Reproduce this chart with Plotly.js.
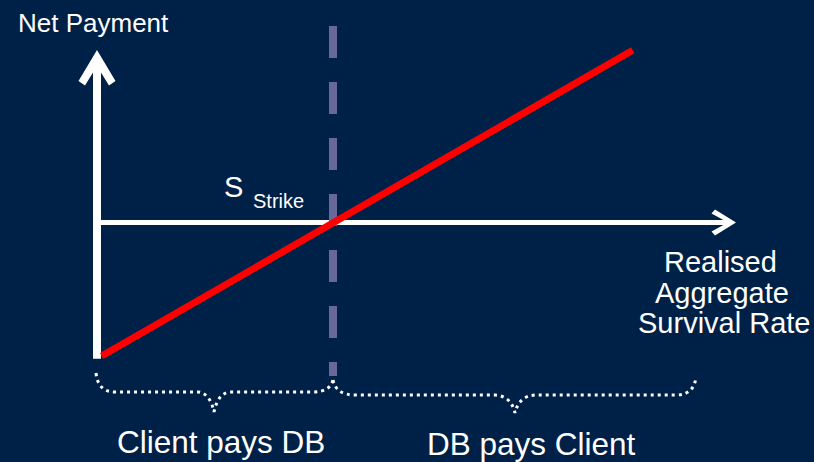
<!DOCTYPE html>
<html><head><meta charset="utf-8">
<script src="https://cdn.plot.ly/plotly-3.0.1.min.js"></script>
<style>html,body{margin:0;padding:0;background:#002147;}</style>
</head><body><div id="chart" style="width:814px;height:462px;"></div>
<script>
// Conceptual payoff data (strike-normalised units)
const survivalRate = [0.02, 2.27];
const netPayment = [-1.0, 1.29];
const strike = 1.0;
const axisLabelX = ["Realised", "Aggregate", "Survival Rate"];
const axisLabelY = "Net Payment";
const regionLabels = ["Client pays DB", "DB pays Client"];

const W = 814, H = 462;
const P = (x, y) => (x / W).toFixed(5) + ',' + (1 - y / H).toFixed(5);
const FONT = '"Liberation Sans", Arial, sans-serif';
const white = '#ffffff';

const shapes = [
  // vertical axis
  {type:'line', xref:'x', yref:'y', x0:0, x1:0, y0:-1.02, y1:1.2, line:{color:white, width:8}, layer:'below'},
  // horizontal axis
  {type:'line', xref:'x', yref:'y', x0:0, x1:2.68, y0:0, y1:0, line:{color:white, width:5}, layer:'below'},
  // vertical arrowhead
  {type:'path', xref:'paper', yref:'paper', layer:'below', line:{width:0}, fillcolor:white,
   path:'M'+P(97,50)+' L'+P(115.5,81)+' L'+P(109,85.5)+' L'+P(97,66)+' L'+P(85,85.5)+' L'+P(78.5,81)+' Z'},
  // horizontal arrowhead
  {type:'path', xref:'paper', yref:'paper', layer:'below', line:{width:0}, fillcolor:white,
   path:'M'+P(736,222.5)+' L'+P(715,209.5)+' L'+P(711.5,213.5)+' L'+P(728,222.5)+' L'+P(711.5,231.5)+' L'+P(715,235.5)+' Z'},
  // strike dashed line
  {type:'line', xref:'x', yref:'y', x0:strike, x1:strike, y0:1.472, y1:-1.15,
   line:{color:'#68689c', width:8, dash:'32px,24px'}, layer:'below'},
  // left brace
  {type:'path', xref:'paper', yref:'paper', layer:'below', line:{color:white, width:3, dash:'3px,4px'},
   path:'M'+P(96,373)+' Q'+P(98,392)+' '+P(115,392)+' L'+P(198,392)+' Q'+P(210,393)+' '+P(214,412)+
        ' Q'+P(218,393)+' '+P(230,392)+' L'+P(313,392)+' Q'+P(330,392)+' '+P(333,380)},
  // right brace
  {type:'path', xref:'paper', yref:'paper', layer:'below', line:{color:white, width:3, dash:'3px,4px'},
   path:'M'+P(333,380)+' Q'+P(336,395)+' '+P(355,395)+' L'+P(495,395)+' Q'+P(511,396)+' '+P(515,413)+
        ' Q'+P(519,396)+' '+P(535,395)+' L'+P(676,395)+' Q'+P(694,395)+' '+P(696,377)}
];

const ann = (text, x, y, size, xanchor) => ({
  text: text, xref:'paper', yref:'paper', x: x / W, y: 1 - y / H,
  xanchor: xanchor || 'center', yanchor:'middle', showarrow:false,
  font:{family:FONT, size:size, color:white}
});

const annotations = [
  ann(axisLabelY, 93, 23, 26),
  ann('S', 233, 187, 29),
  ann('Strike', 278, 201, 20),
  ann(axisLabelX[0], 720, 262, 29),
  ann(axisLabelX[1], 722, 293, 29),
  ann(axisLabelX[2], 724, 323, 29),
  ann(regionLabels[0], 221, 442, 31.5),
  ann(regionLabels[1], 531, 444, 31.5)
];

const data = [{
  type:'scatter', mode:'lines', x: survivalRate, y: netPayment,
  line:{color:'#ff0000', width:7}, hoverinfo:'skip', showlegend:false
}];

const layout = {
  width: W, height: H,
  margin:{l:0, r:0, t:0, b:0},
  paper_bgcolor:'#002147', plot_bgcolor:'#002147',
  xaxis:{range:[-0.411, 3.038], visible:false, fixedrange:true},
  yaxis:{range:[-1.794, 1.667], visible:false, fixedrange:true},
  shapes: shapes, annotations: annotations, showlegend:false
};

Plotly.newPlot('chart', data, layout, {displayModeBar:false, staticPlot:true});
</script>
</body></html>
